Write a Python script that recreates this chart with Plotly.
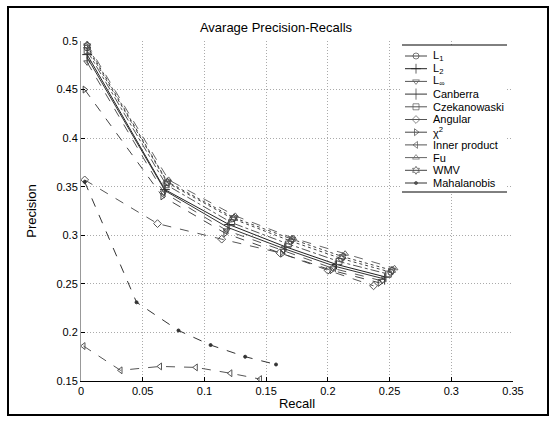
import plotly.graph_objects as go

names = ["L<sub>1</sub>", "L<sub>2</sub>", "L<sub>∞</sub>", "Canberra", "Czekanowaski",
         "Angular", "χ<sup>2</sup>", "Inner product", "Fu", "WMV", "Mahalanobis"]

x_L1 = [0.005, 0.070, 0.123, 0.170, 0.211, 0.251]
y_L1 = [0.493, 0.354, 0.317, 0.294, 0.276, 0.262]
x_L2 = [0.005, 0.068, 0.120, 0.166, 0.207, 0.247]
y_L2 = [0.486, 0.347, 0.311, 0.288, 0.270, 0.257]
x_Linf = [0.005, 0.067, 0.118, 0.164, 0.204, 0.244]
y_Linf = [0.478, 0.344, 0.305, 0.284, 0.266, 0.253]
x_Canb = [0.005, 0.068, 0.119, 0.165, 0.206, 0.246]
y_Canb = [0.483, 0.346, 0.308, 0.286, 0.268, 0.255]
x_Czek = [0.005, 0.069, 0.122, 0.168, 0.209, 0.249]
y_Czek = [0.490, 0.352, 0.313, 0.291, 0.273, 0.260]
x_Ang = [0.003, 0.062, 0.114, 0.161, 0.200, 0.237]
y_Ang = [0.357, 0.312, 0.296, 0.282, 0.264, 0.248]
x_Chi = [0.003, 0.066, 0.117, 0.163, 0.203, 0.242]
y_Chi = [0.450, 0.340, 0.302, 0.281, 0.264, 0.251]
x_Inner = [0.002, 0.032, 0.064, 0.093, 0.121, 0.145]
y_Inner = [0.186, 0.161, 0.165, 0.164, 0.158, 0.152]
x_Fu = [0.005, 0.071, 0.125, 0.172, 0.214, 0.254]
y_Fu = [0.497, 0.357, 0.320, 0.297, 0.281, 0.266]
x_WMV = [0.005, 0.070, 0.124, 0.171, 0.212, 0.252]
y_WMV = [0.495, 0.355, 0.318, 0.296, 0.278, 0.264]
x_Mah = [0.003, 0.045, 0.079, 0.105, 0.133, 0.158]
y_Mah = [0.355, 0.231, 0.202, 0.187, 0.175, 0.167]

xs = [x_L1, x_L2, x_Linf, x_Canb, x_Czek, x_Ang, x_Chi, x_Inner, x_Fu, x_WMV, x_Mah]
ys = [y_L1, y_L2, y_Linf, y_Canb, y_Czek, y_Ang, y_Chi, y_Inner, y_Fu, y_WMV, y_Mah]

symbols = ["circle-open", "cross-thin-open", "triangle-down-open", "line-ns-open", "square-open",
           "diamond-open", "triangle-right-open", "triangle-left-open", "triangle-up-open",
           "hexagram-open", "circle"]
sizes = [6, 7, 6, 8, 6, 6, 6, 6, 6, 6, 3]
dashes = ["dot", "solid", "dash", "solid", "dashdot", "dash", "dash", "dash", "dash", "dot", "dash"]
colors = ["#444444", "#222222", "#555555", "#333333", "#555555", "#555555",
          "#444444", "#555555", "#666666", "#444444", "#333333"]

W, H = 558, 422
L, R, T, B = 81, 45, 41, 41
pw, ph = W - L - R, H - T - B


def px(xp):
    return (xp - L) / pw


def py(yp):
    return (H - B - yp) / ph


fig = go.Figure()
for n, x, y, s, sz, d, c in zip(names, xs, ys, symbols, sizes, dashes, colors):
    fig.add_trace(go.Scatter(
        x=x, y=y, name=n, mode="lines+markers", showlegend=False,
        line=dict(color=c, width=1, dash=d),
        marker=dict(symbol=s, size=sz, color=c, line=dict(color=c, width=1)),
    ))

# custom legend drawn on an overlay axis measured in pixels
LEG_X0, LEG_X1, LEG_Y0, LEG_Y1 = 402, 507, 45, 192
first_y, step = 56, 12.7
for i, (n, s, sz, d, c) in enumerate(zip(names, symbols, sizes, dashes, colors)):
    yy = first_y + i * step
    fig.add_trace(go.Scatter(
        x=[405, 416, 427], y=[yy, yy, yy], mode="lines+markers", showlegend=False,
        xaxis="x2", yaxis="y2", hoverinfo="skip",
        line=dict(color=c, width=1, dash="solid"),
        marker=dict(symbol=s, size=[0, sz, 0], color=c, line=dict(color=c, width=1)),
    ))
    fig.add_annotation(x=431, y=yy, xref="x2", yref="y2", text=n, showarrow=False,
                       xanchor="left", yanchor="middle",
                       font=dict(size=11, color="black"))

grid = dict(showgrid=True, gridcolor="#aaaaaa", griddash="1px,2px", gridwidth=1)

fig.update_layout(
    width=W, height=H,
    margin=dict(l=L, r=R, t=T, b=B),
    paper_bgcolor="white", plot_bgcolor="white",
    font=dict(family="Liberation Sans, Arial", size=11, color="black"),
    title=dict(text="Avarage Precision-Recalls", x=276 / W, xanchor="center",
               y=1 - 27 / H, yanchor="middle", font=dict(size=13)),
    showlegend=False,
    xaxis=dict(range=[0, 0.35], dtick=0.05, tick0=0, **grid,
               showline=True, linecolor="black", linewidth=1,
               ticks="inside", ticklen=4, tickcolor="black",
               zeroline=False, tickfont=dict(size=11),
               title=dict(text="Recall", font=dict(size=13), standoff=2)),
    yaxis=dict(range=[0.15, 0.5], dtick=0.05, tick0=0.15, **grid,
               showline=True, linecolor="#999999", linewidth=1,
               ticks="inside", ticklen=4, tickcolor="black",
               zeroline=False, tickfont=dict(size=11),
               title=dict(text="Precision", font=dict(size=13), standoff=16)),
    xaxis2=dict(domain=[px(LEG_X0), px(LEG_X1)], range=[LEG_X0, LEG_X1], anchor="y2",
                visible=False, fixedrange=True),
    yaxis2=dict(domain=[py(LEG_Y1), py(LEG_Y0)], range=[LEG_Y1, LEG_Y0], anchor="x2",
                visible=False, fixedrange=True),
    shapes=[
        dict(type="rect", xref="paper", yref="paper",
             x0=px(8), x1=px(548), y0=py(415), y1=py(7),
             line=dict(color="black", width=2), layer="below"),
        dict(type="rect", xref="paper", yref="paper",
             x0=px(LEG_X0), x1=px(LEG_X1), y0=py(LEG_Y1), y1=py(LEG_Y0),
             fillcolor="white", line=dict(width=0), layer="between"),
        dict(type="line", xref="paper", yref="paper",
             x0=px(LEG_X0), x1=px(LEG_X1), y0=py(LEG_Y0), y1=py(LEG_Y0),
             line=dict(color="black", width=1)),
        dict(type="line", xref="paper", yref="paper",
             x0=px(LEG_X0), x1=px(LEG_X1), y0=py(LEG_Y1), y1=py(LEG_Y1),
             line=dict(color="black", width=1)),
    ],
)

fig.write_html("out.html")
